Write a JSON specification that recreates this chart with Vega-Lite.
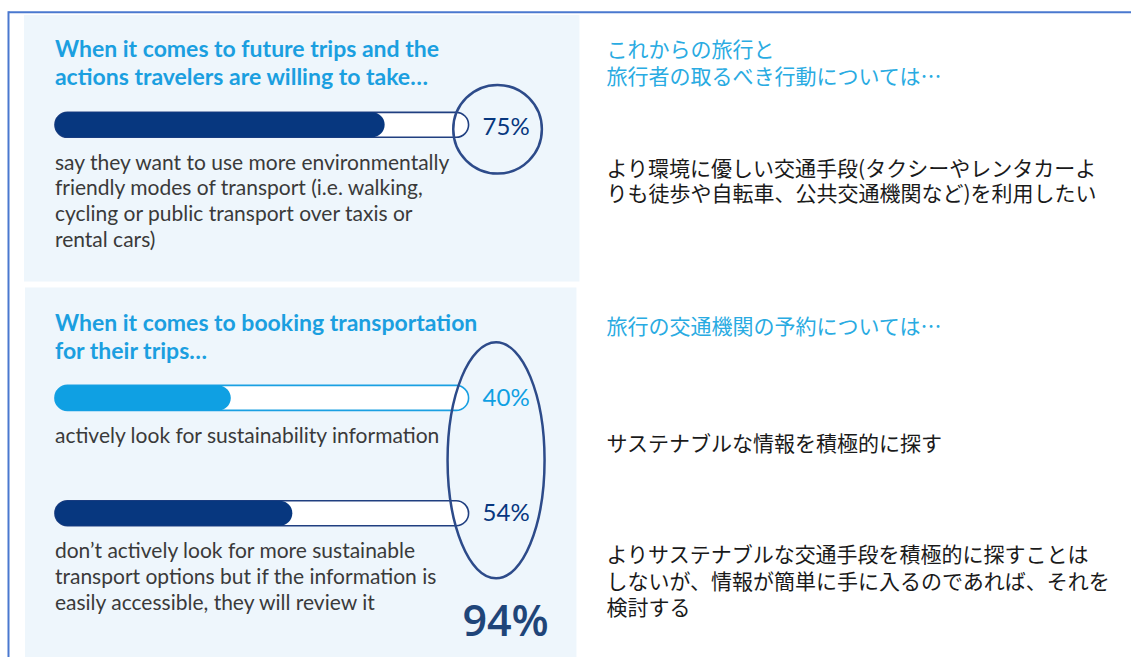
{
  "$schema": "https://vega.github.io/schema/vega-lite/v6.json",
  "width": 1132,
  "height": 658,
  "autosize": {"type": "fit", "contains": "padding"},
  "padding": 0,
  "background": "#ffffff",
  "config": {
    "view": {"stroke": null},
    "axis": {"disable": true},
    "text": {"font": "Lato", "align": "left", "baseline": "alphabetic", "lineBreak": "\n"}
  },
  "datasets": {
    "frame": [{"part": "frame"}],
    "sections": [
      {"group": 1, "title_en": "When it comes to future trips and the\nactions travelers are willing to take…", "title_ja": "これからの旅行と\n旅行者の取るべき行動については…"},
      {"group": 2, "title_en": "When it comes to booking transportation\nfor their trips…", "title_ja": "旅行の交通機関の予約については…"}
    ],
    "items": [
      {"group": 1, "item": "eco", "share": 0.75, "tone": "dark", "desc_en": "say they want to use more environmentally\nfriendly modes of transport (i.e. walking,\ncycling or public transport over taxis or\nrental cars)", "desc_ja": "より環境に優しい交通手段(タクシーやレンタカーよ\nりも徒歩や自転車、公共交通機関など)を利用したい"},
      {"group": 2, "item": "active", "share": 0.40, "tone": "light", "desc_en": "actively look for sustainability information", "desc_ja": "サステナブルな情報を積極的に探す"},
      {"group": 2, "item": "passive", "share": 0.54, "tone": "dark", "desc_en": "don’t actively look for more sustainable\ntransport options but if the information is\neasily accessible, they will review it", "desc_ja": "よりサステナブルな交通手段を積極的に探すことは\nしないが、情報が簡単に手に入るのであれば、それを\n検討する"}
    ],
    "totals": [{"group": 2, "share": 0.94}]
  },
  "layer": [
    {
      "data": {"name": "frame"},
      "layer": [
        {
          "mark": {"type": "rule", "color": "#4a78cf", "strokeWidth": 2},
          "encoding": {
            "x": {"datum": -0.10568, "type": "quantitative", "scale": {"domain": [-0.125, 2.447727], "nice": false, "zero": false}, "axis": null},
            "x2": {"datum": 2.447727},
            "y": {"datum": 12.3, "type": "quantitative", "scale": {"domain": [0, 658], "reverse": true, "nice": false, "zero": false}, "axis": null}
          }
        },
        {
          "mark": {"type": "rule", "color": "#4a78cf", "strokeWidth": 2},
          "encoding": {
            "x": {"datum": -0.10568, "type": "quantitative"},
            "y": {"datum": 11.3, "type": "quantitative"},
            "y2": {"datum": 658}
          }
        }
      ]
    },
    {
      "data": {"name": "sections"},
      "transform": [{"filter": "datum.group === 1"}],
      "layer": [
        {
          "mark": {"type": "rect", "color": "#eef6fc"},
          "encoding": {
            "x": {"datum": -0.07045, "type": "quantitative"}, "x2": {"datum": 1.19318},
            "y": {"datum": 15, "type": "quantitative"}, "y2": {"datum": 282}
          }
        },
        {
          "mark": {"type": "text", "fontSize": 23, "fontWeight": "bold", "color": "#1b9fe0", "lineHeight": 28.5},
          "encoding": {
            "x": {"datum": 0, "type": "quantitative"}, "y": {"datum": 56.7, "type": "quantitative"},
            "text": {"field": "title_en", "type": "nominal"}
          }
        },
        {
          "mark": {"type": "text", "font": "Noto Sans CJK JP", "fontSize": 21, "color": "#29abe2", "lineHeight": 26.7},
          "encoding": {
            "x": {"datum": 1.25455, "type": "quantitative"}, "y": {"datum": 57.3, "type": "quantitative"},
            "text": {"field": "title_ja", "type": "nominal"}
          }
        }
      ]
    },
    {
      "data": {"name": "sections"},
      "transform": [{"filter": "datum.group === 2"}],
      "layer": [
        {
          "mark": {"type": "rect", "color": "#eef6fc"},
          "encoding": {
            "x": {"datum": -0.06818, "type": "quantitative"}, "x2": {"datum": 1.18636},
            "y": {"datum": 288, "type": "quantitative"}, "y2": {"datum": 658}
          }
        },
        {
          "mark": {"type": "text", "fontSize": 23, "fontWeight": "bold", "color": "#1b9fe0", "lineHeight": 28.5},
          "encoding": {
            "x": {"datum": 0, "type": "quantitative"}, "y": {"datum": 331.5, "type": "quantitative"},
            "text": {"field": "title_en", "type": "nominal"}
          }
        },
        {
          "mark": {"type": "text", "font": "Noto Sans CJK JP", "fontSize": 21, "color": "#29abe2"},
          "encoding": {
            "x": {"datum": 1.25455, "type": "quantitative"}, "y": {"datum": 335, "type": "quantitative"},
            "text": {"field": "title_ja", "type": "nominal"}
          }
        }
      ]
    },
    {
      "data": {"name": "items"},
      "transform": [{"filter": "datum.item === 'eco'"}],
      "layer": [
        {
          "mark": {"type": "rect", "fill": "#ffffff", "strokeWidth": 1.6, "cornerRadius": 12.5},
          "encoding": {
            "x": {"datum": 0, "type": "quantitative"}, "x2": {"datum": 0.9409},
            "y": {"datum": 112.5, "type": "quantitative"}, "y2": {"datum": 137.5},
            "stroke": {"field": "tone", "type": "nominal", "scale": {"domain": ["dark", "light"], "range": ["#203f80", "#1aa0e2"]}, "legend": null}
          }
        },
        {
          "mark": {"type": "rect", "cornerRadius": 12.5},
          "encoding": {
            "x": {"field": "share", "type": "quantitative"}, "x2": {"datum": 0},
            "y": {"datum": 112.5, "type": "quantitative"}, "y2": {"datum": 137.5},
            "color": {"field": "tone", "type": "nominal", "scale": {"domain": ["dark", "light"], "range": ["#07377f", "#0fa0e3"]}, "legend": null}
          }
        },
        {
          "mark": {"type": "point", "shape": "circle", "filled": false, "size": 7854, "color": "#2d4b8a", "strokeWidth": 2.5, "opacity": 1},
          "encoding": {
            "x": {"datum": 1.00682, "type": "quantitative"}, "y": {"datum": 129.5, "type": "quantitative"}
          }
        },
        {
          "mark": {"type": "text", "fontSize": 24},
          "encoding": {
            "x": {"datum": 0.97273, "type": "quantitative"}, "y": {"datum": 135, "type": "quantitative"},
            "text": {"field": "share", "type": "quantitative", "format": ".0%"},
            "color": {"field": "tone", "type": "nominal", "legend": null}
          }
        },
        {
          "mark": {"type": "text", "fontSize": 21, "color": "#3a3a3a", "lineHeight": 25.7},
          "encoding": {
            "x": {"datum": 0, "type": "quantitative"}, "y": {"datum": 170, "type": "quantitative"},
            "text": {"field": "desc_en", "type": "nominal"}
          }
        },
        {
          "mark": {"type": "text", "font": "Noto Sans CJK JP", "fontSize": 21, "color": "#1a1a1a", "lineHeight": 25.5},
          "encoding": {
            "x": {"datum": 1.25455, "type": "quantitative"}, "y": {"datum": 176, "type": "quantitative"},
            "text": {"field": "desc_ja", "type": "nominal"}
          }
        }
      ]
    },
    {
      "data": {"name": "items"},
      "transform": [{"filter": "datum.item === 'active'"}],
      "layer": [
        {
          "mark": {"type": "rect", "fill": "#ffffff", "strokeWidth": 1.6, "cornerRadius": 12.5},
          "encoding": {
            "x": {"datum": 0, "type": "quantitative"}, "x2": {"datum": 0.9409},
            "y": {"datum": 386, "type": "quantitative"}, "y2": {"datum": 411},
            "stroke": {"field": "tone", "type": "nominal", "legend": null}
          }
        },
        {
          "mark": {"type": "rect", "cornerRadius": 12.5},
          "encoding": {
            "x": {"field": "share", "type": "quantitative"}, "x2": {"datum": 0},
            "y": {"datum": 386, "type": "quantitative"}, "y2": {"datum": 411},
            "color": {"field": "tone", "type": "nominal", "legend": null}
          }
        },
        {
          "mark": {"type": "text", "fontSize": 24},
          "encoding": {
            "x": {"datum": 0.97273, "type": "quantitative"}, "y": {"datum": 406.5, "type": "quantitative"},
            "text": {"field": "share", "type": "quantitative", "format": ".0%"},
            "color": {"field": "tone", "type": "nominal", "legend": null}
          }
        },
        {
          "mark": {"type": "text", "fontSize": 21, "color": "#3a3a3a"},
          "encoding": {
            "x": {"datum": 0, "type": "quantitative"}, "y": {"datum": 444, "type": "quantitative"},
            "text": {"field": "desc_en", "type": "nominal"}
          }
        },
        {
          "mark": {"type": "text", "font": "Noto Sans CJK JP", "fontSize": 21, "color": "#1a1a1a"},
          "encoding": {
            "x": {"datum": 1.25455, "type": "quantitative"}, "y": {"datum": 452, "type": "quantitative"},
            "text": {"field": "desc_ja", "type": "nominal"}
          }
        }
      ]
    },
    {
      "data": {"name": "items"},
      "transform": [{"filter": "datum.item === 'passive'"}],
      "layer": [
        {
          "mark": {"type": "rect", "fill": "#ffffff", "strokeWidth": 1.6, "cornerRadius": 12.5},
          "encoding": {
            "x": {"datum": 0, "type": "quantitative"}, "x2": {"datum": 0.9409},
            "y": {"datum": 501.5, "type": "quantitative"}, "y2": {"datum": 526.5},
            "stroke": {"field": "tone", "type": "nominal", "legend": null}
          }
        },
        {
          "mark": {"type": "rect", "cornerRadius": 12.5},
          "encoding": {
            "x": {"field": "share", "type": "quantitative"}, "x2": {"datum": 0},
            "y": {"datum": 501.5, "type": "quantitative"}, "y2": {"datum": 526.5},
            "color": {"field": "tone", "type": "nominal", "legend": null}
          }
        },
        {
          "mark": {"type": "text", "fontSize": 24},
          "encoding": {
            "x": {"datum": 0.97273, "type": "quantitative"}, "y": {"datum": 521.5, "type": "quantitative"},
            "text": {"field": "share", "type": "quantitative", "format": ".0%"},
            "color": {"field": "tone", "type": "nominal", "legend": null}
          }
        },
        {
          "mark": {"type": "text", "fontSize": 21, "color": "#3a3a3a", "lineHeight": 25.7},
          "encoding": {
            "x": {"datum": 0, "type": "quantitative"}, "y": {"datum": 559, "type": "quantitative"},
            "text": {"field": "desc_en", "type": "nominal"}
          }
        },
        {
          "mark": {"type": "text", "font": "Noto Sans CJK JP", "fontSize": 21, "color": "#1a1a1a", "lineHeight": 26.5},
          "encoding": {
            "x": {"datum": 1.25455, "type": "quantitative"}, "y": {"datum": 563, "type": "quantitative"},
            "text": {"field": "desc_ja", "type": "nominal"}
          }
        }
      ]
    },
    {
      "data": {"name": "totals"},
      "layer": [
        {
          "mark": {"type": "point", "shape": "M0,-1A0.411,1,0,1,1,0,1A0.411,1,0,1,1,0,-1Z", "filled": false, "size": 55696, "color": "#2d4b8a", "strokeWidth": 2.5, "opacity": 1},
          "encoding": {
            "x": {"datum": 1.00341, "type": "quantitative"}, "y": {"datum": 461, "type": "quantitative"}
          }
        },
        {
          "mark": {"type": "text", "font": "Open Sans", "fontSize": 43, "fontWeight": 600, "align": "center", "color": "#1f4579"},
          "encoding": {
            "x": {"datum": 1.025, "type": "quantitative"}, "y": {"datum": 637, "type": "quantitative"},
            "text": {"field": "share", "type": "quantitative", "format": ".0%"}
          }
        }
      ]
    }
  ]
}
